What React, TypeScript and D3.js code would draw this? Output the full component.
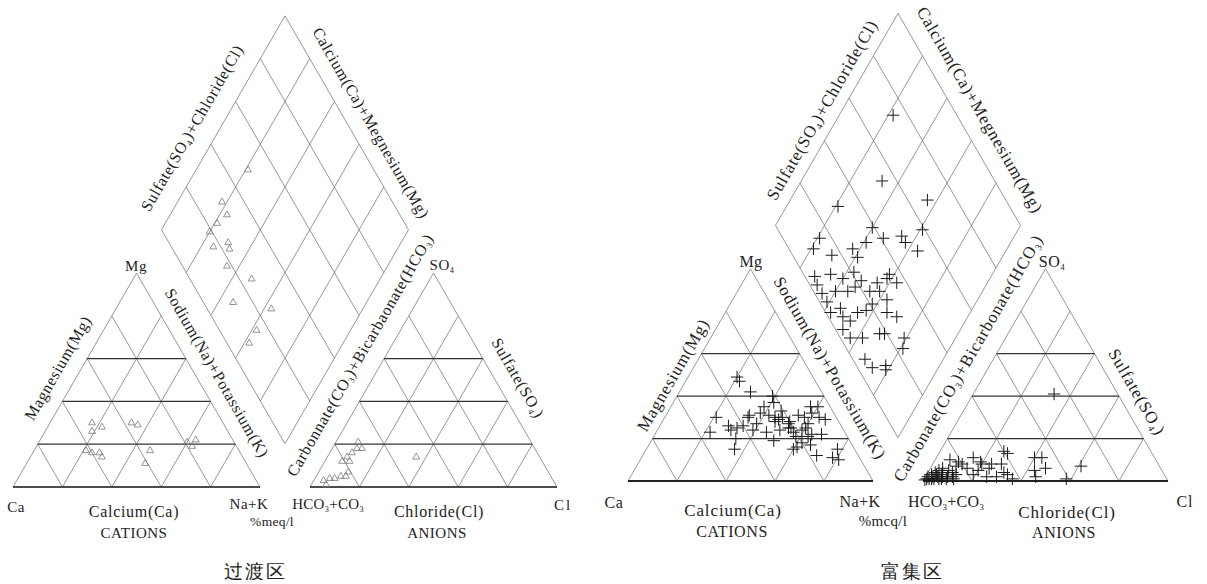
import React from "react"
import * as d3 from "d3"

// ---- data (percent values) ----
// cation triangle: [Mg %, Na+K %]
const cationTransition = [
  [30, 17], [26, 19], [28, 22], [30, 33], [29, 36], [17, 21], [16, 24], [16, 27], [14, 29],
  [17, 47], [11, 48], [21, 60], [22, 63], [19, 63],
]
// anion triangle: [SO4 %, Cl %]
const anionTransition = [
  [21, 9], [18, 12], [18, 10], [16, 9], [14, 8], [12, 7], [12, 10], [3, 4], [4, 6], [4, 8],
  [5, 10], [5, 12], [7, 12], [1, 6], [14, 36],
]
// diamond: [SO4+Cl %, Ca+Mg %]
const diamondTransition = [
  [49, 79], [31, 82], [30, 77], [24, 79], [19, 80], [24, 70], [23, 68], [17, 75], [18, 65],
  [25, 52], [12, 54], [26, 37], [15, 38], [9, 38],
]

const cationEnriched = [
  [49, 20], [47, 22], [42, 29], [40, 39], [37, 41], [35, 38], [32, 38], [31, 42], [30, 45],
  [29, 47], [28, 46], [30, 48], [27, 52], [25, 54], [25, 53], [23, 56], [31, 54], [30, 57],
  [27, 60], [35, 57], [35, 60], [32, 59], [30, 63], [29, 66], [31, 34], [30, 34], [27, 39],
  [24, 39], [26, 34], [25, 32], [24, 30], [30, 21], [23, 22], [23, 45], [19, 50], [20, 34],
  [15, 36], [24, 59], [25, 60], [22, 64], [22, 68], [18, 62], [16, 61], [15, 60], [17, 66],
  [12, 71], [11, 78], [15, 78], [10, 81], [21, 63], [26, 28], [33, 46], [28, 52], [24, 50],
  [21, 58],
]
const anionEnriched = [
  [41, 33], [14, 26], [13, 28], [11, 40], [11, 43], [6, 47], [5, 43], [2, 45], [7, 61], [1, 58],
  [10, 6], [9, 10], [7, 10], [8, 12], [11, 15], [9, 19], [8, 20], [8, 24], [8, 28], [6, 5],
  [5, 8], [4, 10], [6, 15], [3, 19], [5, 20], [6, 24], [2, 25], [2, 29], [4, 31], [3, 33],
  [1, 36], [1, 1], [1, 2], [1, 4], [2, 5], [1, 6], [4, 6], [1, 9], [2, 1], [3, 2], [5, 4],
  [4, 3], [2, 9], [0.5, 0.5], [1, 3], [2, 3], [3, 4], [1, 7], [2, 7], [3, 6], [2, 11], [3, 12],
  [1, 12],
]
const diamondEnriched = [
  [74, 78], [54, 67], [68, 44], [30, 79], [39, 60], [59, 39], [15, 79], [10, 79], [16, 70],
  [26, 63], [33, 59], [26, 59], [41, 53], [49, 46], [49, 43], [52, 36], [4, 72], [11, 66],
  [15, 60], [21, 57], [22, 52], [28, 45], [33, 42], [36, 37], [35, 42], [3, 69], [3, 61],
  [7, 54], [6, 51], [2, 57], [8, 47], [13, 46], [17, 43], [21, 42], [28, 37], [25, 34],
  [28, 29], [3, 48], [4, 43], [9, 38], [17, 32], [19, 30], [26, 21], [23, 19], [5, 32],
  [6, 27], [12, 22], [11, 21], [9, 60], [3, 65], [14, 55], [18, 53], [23, 46], [27, 42],
]

const gridSteps = [20, 40, 60, 80]
const boldSteps = [20, 40, 60]

const FONT = '"Liberation Serif", "Times New Roman", serif'
const SQ = Math.sqrt(3) / 2

type Part = [string, boolean?]

function Label({ x, y, rot = 0, size, ls, parts, anchor = "middle" }: {
  x: number; y: number; rot?: number; size: number; ls: number; parts: Part[]; anchor?: string
}) {
  let shifted = false
  return (
    <text
      transform={`translate(${x},${y}) rotate(${rot})`}
      y={size * 0.34}
      textAnchor={anchor}
      fontFamily={FONT}
      fontSize={size}
      letterSpacing={ls}
      fill="#222"
    >
      {parts.map(([t, sub], i) => {
        let dy = 0
        if (sub && !shifted) { dy = size * 0.18; shifted = true }
        else if (!sub && shifted) { dy = -size * 0.18; shifted = false }
        return (
          <tspan key={i} dy={dy || undefined} fontSize={sub ? size * 0.55 : undefined}>{t}</tspan>
        )
      })}
    </text>
  )
}

function Piper({ x0, yb, s, gap, cation, anion, diamond, marker, big }: {
  x0: number; yb: number; s: number; gap: number
  cation: number[][]; anion: number[][]; diamond: number[][]
  marker: "tri" | "plus"; big: boolean
}) {
  const h = s * SQ
  const ax0 = x0 + s + gap
  // triangle scales (percent -> px)
  const cx = d3.scaleLinear().domain([0, 100]).range([x0, x0 + s])
  const ax = d3.scaleLinear().domain([0, 100]).range([ax0, ax0 + s])
  const ty = d3.scaleLinear().domain([0, 100]).range([yb, yb - h])
  // diamond scales
  const bx = x0 + s + gap / 2
  const by = yb - gap * SQ
  const dx = d3.scaleLinear().domain([-100, 100]).range([bx - s / 2, bx + s / 2])
  const dy = d3.scaleLinear().domain([0, 200]).range([by, by - 2 * h])

  const thin = { stroke: "#6a6a6a", strokeWidth: 0.7, fill: "none" }
  const bold = { stroke: "#333", strokeWidth: 1.3, fill: "none" }
  const line = d3.line()

  const triangle = (X: d3.ScaleLinear<number, number>, key: string) => {
    // ternary: (p = right-corner %, q = apex %)
    const pt = (p: number, q: number): [number, number] => [X(p + q / 2), ty(q)]
    return (
      <g key={key}>
        <path d={line([pt(0, 0), pt(100, 0), pt(0, 100), pt(0, 0)])!} {...thin} />
        {gridSteps.map((t) => (
          <g key={t}>
            <path d={line([pt(t, 0), pt(t, 100 - t)])!} {...thin} />
            <path d={line([pt(t, 0), pt(0, t)])!} {...thin} />
          </g>
        ))}
        {boldSteps.map((t) => (
          <path key={"b" + t} d={line([pt(0, t), pt(100 - t, t)])!} {...bold} />
        ))}
        <path d={line([pt(0, 0), pt(100, 0)])!} stroke="#222" strokeWidth={big ? 1.8 : 1.3} />
      </g>
    )
  }

  const dpt = (sc: number, cm: number): [number, number] => [dx(sc - cm), dy(sc + cm)]

  const sym = marker === "tri"
    ? d3.symbol().type(d3.symbolTriangle2).size(34)()!
    : d3.symbol().type(d3.symbolPlus).size(52)()!
  const mStyle = marker === "tri"
    ? { stroke: "#7a7a7a", strokeWidth: 0.8, fill: "none" }
    : { stroke: "#1a1a1a", strokeWidth: 1, fill: "none" }

  const pts: [number, number][] = [
    ...cation.map(([mg, nak]) => [cx(nak + mg / 2), ty(mg)] as [number, number]),
    ...anion.map(([so4, cl]) => [ax(cl + so4 / 2), ty(so4)] as [number, number]),
    ...diamond.map(([sc, cm]) => dpt(sc, cm)),
  ]

  return (
    <g>
      {triangle(cx, "cat")}
      {triangle(ax, "an")}
      <path d={line([dpt(0, 0), dpt(0, 100), dpt(100, 100), dpt(100, 0), dpt(0, 0)])!} {...thin} />
      {gridSteps.map((t) => (
        <g key={"d" + t}>
          <path d={line([dpt(t, 0), dpt(t, 100)])!} {...thin} />
          <path d={line([dpt(0, t), dpt(100, t)])!} {...thin} />
        </g>
      ))}
      {pts.map(([x, y], i) => (
        <path key={i} d={sym} transform={`translate(${x},${y})`} {...mStyle} />
      ))}
    </g>
  )
}

export default function App() {
  const L = 16, LS = 0.7
  const R = 17, RS = 0.9
  return (
    <svg width={1207} height={584} style={{ position: "absolute", left: 0, top: 0, background: "#fff" }}>
      <Piper x0={13} yb={487} s={247} gap={50} cation={cationTransition} anion={anionTransition}
        diamond={diamondTransition} marker="tri" big={false} />
      <Piper x0={628} yb={481} s={245} gap={50} cation={cationEnriched} anion={anionEnriched}
        diamond={diamondEnriched} marker="plus" big={true} />

      {/* left panel labels */}
      <Label x={58} y={368} rot={-60} size={L} ls={LS} parts={[["Magnesium(Mg)"]]} />
      <Label x={217} y={373} rot={60} size={L} ls={LS} parts={[["Sodium(Na)+Potassium(K)"]]} />
      <Label x={360} y={355} rot={-60} size={L} ls={LS}
        parts={[["Carbonnate(CO"], ["3", true], [")+Bicarbaonate(HCO"], ["3", true], [")"]]} />
      <Label x={518} y={378} rot={60} size={L} ls={LS} parts={[["Sulfate(SO"], ["4", true], [")"]]} />
      <Label x={192} y={128} rot={-60} size={L} ls={LS}
        parts={[["Sulfate(SO"], ["4", true], [")+Chloride(Cl)"]]} />
      <Label x={371} y={123} rot={60} size={L} ls={LS} parts={[["Calcium(Ca)+Megnesium(Mg)"]]} />
      <Label x={136} y={266} size={15} ls={0.5} parts={[["Mg"]]} />
      <Label x={442} y={265} size={15} ls={0.5} parts={[["SO"], ["4", true]]} />
      <Label x={16} y={507} size={15} ls={0.5} parts={[["Ca"]]} />
      <Label x={134} y={512} size={L} ls={LS} parts={[["Calcium(Ca)"]]} />
      <Label x={134} y={533} size={15} ls={0.5} parts={[["CATIONS"]]} />
      <Label x={249} y={504} size={15} ls={0.5} parts={[["Na+K"]]} />
      <Label x={272} y={521} size={13.5} ls={0.3} parts={[["%meq/l"]]} />
      <Label x={328} y={504} size={15} ls={0.3} parts={[["HCO"], ["3", true], ["+CO"], ["3", true]]} />
      <Label x={439} y={512} size={L} ls={LS} parts={[["Chloride(Cl)"]]} />
      <Label x={437} y={533} size={15} ls={0.5} parts={[["ANIONS"]]} />
      <Label x={563} y={505} size={15} ls={2} parts={[["Cl"]]} />
      <Label x={255} y={572} size={19} ls={2} parts={[["过渡区"]]} />

      {/* right panel labels */}
      <Label x={673} y={375} rot={-60} size={R} ls={RS} parts={[["Magnesium(Mg)"]]} />
      <Label x={830} y={368} rot={60} size={R} ls={RS} parts={[["Sodium(Na)+Potassium(K)"]]} />
      <Label x={968} y={358} rot={-60} size={R} ls={RS}
        parts={[["Carbonate(CO"], ["3", true], [")+Bicarbonate(HCO"], ["3", true], [")"]]} />
      <Label x={1137} y={392} rot={60} size={R} ls={RS} parts={[["Sulfate(SO"], ["4", true], [")"]]} />
      <Label x={822} y={110} rot={-60} size={R} ls={RS}
        parts={[["Sulfate(SO"], ["4", true], [")+Chloride(Cl)"]]} />
      <Label x={980} y={110} rot={60} size={R} ls={RS} parts={[["Calcium(Ca)+Megnesium(Mg)"]]} />
      <Label x={751} y={262} size={16} ls={0.5} parts={[["Mg"]]} />
      <Label x={1052} y={262} size={16} ls={0.5} parts={[["SO"], ["4", true]]} />
      <Label x={614} y={503} size={16} ls={0.5} parts={[["Ca"]]} />
      <Label x={733} y={510} size={R} ls={RS} parts={[["Calcium(Ca)"]]} />
      <Label x={732} y={532} size={16} ls={0.6} parts={[["CATIONS"]]} />
      <Label x={860} y={502} size={16} ls={0.5} parts={[["Na+K"]]} />
      <Label x={883} y={521} size={15} ls={0.3} parts={[["%mcq/l"]]} />
      <Label x={946} y={502} size={16} ls={0.3} parts={[["HCO"], ["3", true], ["+CO"], ["3", true]]} />
      <Label x={1067} y={512} size={R} ls={RS} parts={[["Chloride(Cl)"]]} />
      <Label x={1064} y={533} size={16} ls={0.6} parts={[["ANIONS"]]} />
      <Label x={1185} y={502} size={16} ls={1} parts={[["Cl"]]} />
      <Label x={912} y={572} size={19} ls={2} parts={[["富集区"]]} />
    </svg>
  )
}
